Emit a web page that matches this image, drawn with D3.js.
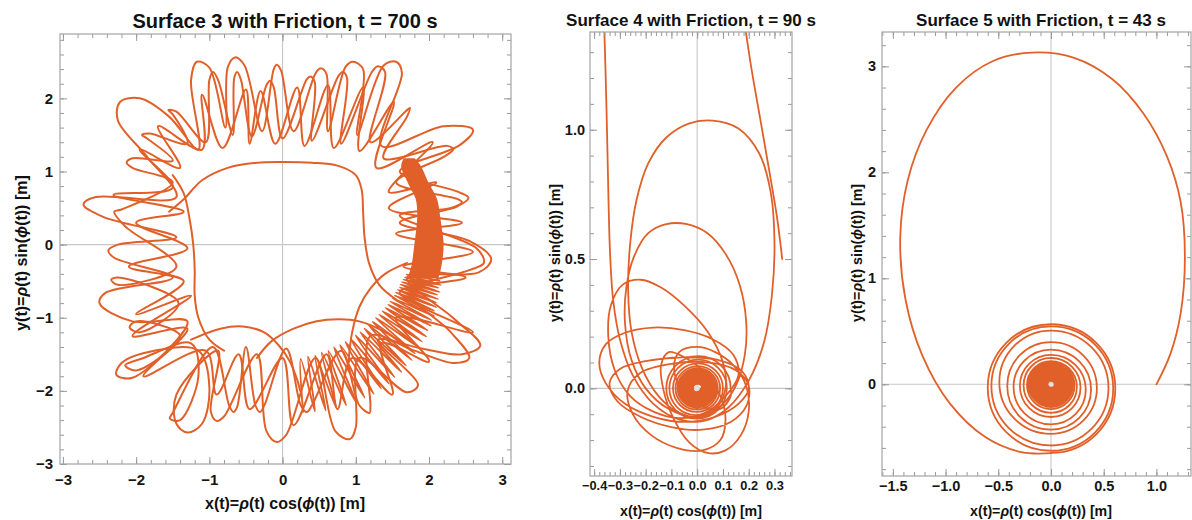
<!DOCTYPE html>
<html><head><meta charset="utf-8">
<script src="https://cdn.jsdelivr.net/npm/d3@7"></script>
<style>body{margin:0;background:#fff}</style>
</head><body>
<svg id="chart" width="1192" height="520"></svg>
<script>
// ---------- Surface 3 (t = 700 s) ----------
const s3MajorX = [-3, -2, -1, 0, 1, 2, 3];
const s3MajorXLabels = ["−3", "−2", "−1", "0", "1", "2", "3"];
const s3MajorY = [-3, -2, -1, 0, 1, 2];
const s3MajorYLabels = ["−3", "−2", "−1", "0", "1", "2"];

// petal passes around the ring [x, y] in metres
const s3PassA = [
  [-1.30,-1.05],[-2.05,-1.05],[-2.50,-0.80],[-2.42,-0.66],[-1.50,-0.45],
  [-2.30,-0.18],[-2.38,-0.08],[-2.25,0.00],[-1.45,0.10],
  [-2.45,0.38],[-2.72,0.55],[-2.55,0.65],[-1.45,0.65],
  [-1.85,1.20],[-2.25,1.70],[-2.22,1.95],[-1.95,2.00],[-1.55,1.75],[-1.15,1.30],
  [-1.25,2.25],[-1.17,2.50],[-1.00,2.42],[-0.78,1.60],
  [-0.75,2.42],[-0.65,2.56],[-0.52,2.45],[-0.28,1.55],
  [-0.12,2.40],[-0.08,2.46],[-0.02,2.38],[0.15,1.55],
  [0.46,2.36],[0.53,2.41],[0.60,2.33],[0.62,1.55],
  [0.86,2.43],[0.96,2.50],[1.10,2.40],[1.02,1.50],
  [1.38,2.45],[1.55,2.50],[1.63,2.35],[1.35,1.35],
  [2.20,1.62],[2.60,1.57],[2.42,1.36],[1.60,1.00],
  [2.40,0.72],[2.54,0.64],[2.38,0.52],[1.60,0.30],
  [2.55,0.05],[2.85,-0.20],[2.68,-0.38],[1.70,-0.45],
  [2.35,-1.02],[2.70,-1.38],[2.45,-1.50],[1.90,-1.42],[1.30,-1.30],
  [1.85,-1.92],[1.70,-2.02],[1.05,-1.55],
  [1.00,-2.50],[0.92,-2.66],[0.72,-2.55],[0.45,-1.55],
  [0.05,-2.60],[-0.08,-2.70],[-0.22,-2.55],[-0.35,-1.50],
  [-0.80,-2.35],[-0.90,-2.41],[-0.98,-2.28],[-0.88,-1.45],
  [-1.45,-2.05],[-1.45,-2.45],[-1.30,-2.57],[-1.10,-2.45],[-1.00,-1.95],[-1.15,-1.45],
  [-1.75,-1.45],[-2.20,-1.62],[-2.27,-1.78],[-2.05,-1.82]
];
const s3PassB = [
  [-1.40,-1.25],[-2.00,-1.05],[-2.09,-1.13],[-1.95,-1.20],[-1.42,-0.80],
  [-2.25,-0.45],[-2.34,-0.48],[-2.25,-0.55],[-1.45,-0.30],
  [-2.15,0.25],[-2.30,0.45],[-2.20,0.48],[-1.50,0.85],
  [-2.05,1.05],[-2.13,1.12],[-2.05,1.18],[-1.50,1.15],
  [-1.85,1.45],[-1.92,1.50],[-1.82,1.52],[-1.30,1.38],
  [-1.50,1.78],[-1.56,1.84],[-1.45,1.82],[-1.05,1.40],
  [-1.00,2.25],[-0.95,2.36],[-0.88,2.25],[-0.68,1.50],
  [-0.66,2.28],[-0.62,2.36],[-0.57,2.26],[-0.42,1.48],
  [-0.22,2.18],[-0.17,2.24],[-0.12,2.15],[0.00,1.45],
  [0.33,2.26],[0.38,2.30],[0.44,2.22],[0.40,1.42],
  [0.76,2.30],[0.82,2.36],[0.88,2.28],[0.80,1.38],
  [1.22,2.36],[1.30,2.44],[1.40,2.36],[1.20,1.40],
  [1.68,1.82],[1.74,1.87],[1.70,1.75],[1.38,1.18],
  [2.25,1.35],[2.33,1.30],[2.20,1.20],[1.55,0.85],
  [2.40,0.62],[2.45,0.58],[2.30,0.50],[1.60,0.40],
  [2.65,-0.05],[2.75,-0.25],[2.55,-0.35],[1.75,-0.65],
  [2.30,-1.20],[2.55,-1.55],[2.35,-1.62],[1.80,-1.45],[1.20,-1.25],
  [1.20,-2.20],[1.19,-2.30],[1.05,-2.20],[0.80,-1.45],
  [0.40,-2.20],[0.33,-2.29],[0.25,-2.20],[0.05,-1.42],
  [-0.25,-2.20],[-0.31,-2.29],[-0.37,-2.20],[-0.50,-1.40],
  [-0.62,-2.22],[-0.67,-2.29],[-0.73,-2.20],[-0.95,-1.40],
  [-1.50,-2.30],[-1.54,-2.38],[-1.40,-2.40],[-1.15,-1.80],[-1.25,-1.35],
  [-1.90,-1.55],[-2.15,-1.65],[-2.00,-1.72]
];
const s3PassC = [
  [-1.25,-0.70],[-2.00,-0.95],[-1.35,-0.50],[-2.10,-0.30],[-1.30,-0.05],
  [-2.00,0.30],[-1.35,0.45],[-2.31,0.68],[-1.50,0.78],[-1.95,1.30],
  [-1.40,1.05],[-1.70,1.62],[-1.10,1.30],[-1.10,2.05],[-0.82,1.32],
  [-0.50,2.12],[-0.45,1.38],[-0.30,2.10],[-0.10,1.38],[0.20,2.15],
  [0.30,1.35],[0.62,2.18],[0.70,1.32],[1.10,2.15],[1.05,1.28],
  [1.52,1.95],[1.28,1.05],[2.05,1.40],[1.45,0.72],[2.10,0.85],
  [1.45,0.50],[2.45,0.30],[1.55,0.15],[2.60,-0.10],[1.65,-0.30],
  [2.50,-0.45],[1.60,-0.65],[2.60,-1.20],[1.55,-1.00],[2.00,-1.60],
  [1.35,-1.35],[1.50,-2.05],[0.95,-1.55],[0.75,-2.25],[0.60,-1.50],
  [0.15,-2.47],[0.00,-1.55],[-0.45,-2.25],[-0.60,-1.50],[-0.90,-2.05],
  [-1.05,-1.45],[-1.90,-1.80],[-1.30,-1.15],[-2.05,-1.25]
];
// smooth arcs bounding the central hole
const s3ArcTop = [[-1.55,0.45],[-1.35,0.62],[-1.10,0.88],[-0.75,1.05],[-0.35,1.12],[0.00,1.13],
  [0.40,1.12],[0.75,1.08],[1.00,0.95],[1.08,0.75],[1.10,0.45],[1.12,0.10],[1.18,-0.25],[1.32,-0.55],[1.55,-0.75]];
const s3ArcLeft = [[-1.50,0.95],[-1.35,0.70],[-1.27,0.35],[-1.22,0.00],[-1.20,-0.35],[-1.20,-0.70],
  [-1.15,-1.00],[-1.00,-1.30],[-0.80,-1.45]];
const s3ArcBottom1 = [[-1.25,-1.30],[-0.85,-1.15],[-0.54,-1.12],[-0.25,-1.20],[-0.05,-1.38],[0.10,-1.60],[0.20,-1.85],[0.24,-2.00]];
const s3ArcBottom2 = [[-0.35,-1.55],[-0.15,-1.32],[0.15,-1.15],[0.45,-1.05],[0.78,-1.02],[1.05,-1.05],[1.33,-1.16],[1.60,-1.32]];
const s3ArcRight = [[0.90,-1.60],[0.95,-1.20],[1.05,-0.85],[1.20,-0.60],[1.40,-0.40],[1.70,-0.25]];
// dense oscillation band: [y, inner x, outer x]
const s3Band = [[1.17,1.66,1.80],[1.07,1.63,1.88],[0.85,1.72,1.98],[0.62,1.83,2.10],[0.40,1.85,2.14],
  [0.25,1.84,2.16],[0.00,1.81,2.19],[-0.29,1.77,2.16],[-0.45,1.72,2.12]];
// looser oscillations continuing clockwise: [angle deg, radius m]
const s3Zigzag = [
  [-13,2.20],[-13.6,1.74],[-14.3,2.23],[-14.9,1.73],[-15.5,2.21],[-16.1,1.72],[-16.8,2.24],[-17.4,1.71],
  [-18.0,2.22],[-18.7,1.70],[-19.3,2.25],[-20.0,1.70],[-20.7,2.24],[-21.4,1.69],[-22.1,2.27],[-22.9,1.68],
  [-23.6,2.26],[-24.4,1.68],[-25.2,2.29],[-26.0,1.67],[-26.9,2.28],[-27.8,1.66],[-28.7,2.31],[-29.6,1.66],
  [-30.6,2.30],[-31.6,1.65],[-32.6,2.33],[-33.7,1.64],[-34.8,2.32],[-35.9,1.63],[-37.0,2.35],[-38.2,1.62],
  [-39.4,2.34],[-40.6,1.62],[-41.8,2.37],[-43.1,1.61],[-44.4,2.36],[-45.7,1.60],[-47.0,2.38],[-48.4,1.60],
  [-49.8,2.37],[-51.2,1.59],[-52.6,2.39],[-54.1,1.59],[-55.6,2.38],[-57.1,1.58],[-58.6,2.39],[-60.2,1.58],
  [-61.8,2.37],[-63.4,1.57],[-65.0,2.38],[-66.7,1.58],[-68.4,2.36],[-70.1,1.57],[-71.8,2.35],[-73.6,1.58],
  [-75.4,2.34],[-77.2,1.57],[-79.0,2.32],[-81.0,1.58],[-83.0,2.30]
];

// ---------- Surface 4 (t = 90 s) ----------
const s4MajorX = [-0.4, -0.3, -0.2, -0.1, 0.0, 0.1, 0.2, 0.3];
const s4MajorXLabels = ["−0.4", "−0.3", "−0.2", "−0.1", "0.0", "0.1", "0.2", "0.3"];
const s4MajorY = [0.0, 0.5, 1.0];
const s4MajorYLabels = ["0.0", "0.5", "1.0"];
const s4Entry = [[0.33,0.50],[0.31,0.66],[0.28,0.84],[0.245,1.04],[0.21,1.24],[0.18,1.44]];
const s4Orbit = [
  [-0.362,1.44],[-0.355,1.20],[-0.349,0.95],[-0.344,0.72],[-0.338,0.52],[-0.326,0.34],[-0.30,0.19],[-0.25,0.05],
  [-0.17,-0.06],[-0.07,-0.12],[0.03,-0.125],[0.12,-0.075],[0.20,0.03],[0.26,0.18],[0.29,0.36],[0.30,0.56],
  [0.285,0.76],[0.24,0.91],[0.16,1.005],[0.06,1.035],[-0.03,1.025],[-0.12,0.97],[-0.19,0.87],[-0.235,0.73],
  [-0.26,0.56],[-0.268,0.38],[-0.255,0.22],[-0.215,0.08],[-0.15,-0.03],[-0.07,-0.095],[0.02,-0.11],[0.09,-0.07],
  [0.15,0.01],[0.185,0.13],[0.19,0.26],[0.165,0.40],[0.11,0.52],[0.04,0.60],[-0.04,0.635],[-0.12,0.635],
  [-0.19,0.60],[-0.245,0.51],[-0.275,0.39],[-0.28,0.25],[-0.255,0.11],[-0.20,0.00],[-0.11,-0.08],[-0.01,-0.11],
  [0.07,-0.08],[0.11,0.00],[0.10,0.10],[0.04,0.22],[-0.05,0.32],[-0.14,0.39],[-0.22,0.42],[-0.29,0.40],
  [-0.335,0.32],[-0.345,0.20],[-0.32,0.07],[-0.26,-0.03],[-0.17,-0.09],[-0.07,-0.115],[0.03,-0.095],[0.11,-0.03],
  [0.16,0.05],[0.14,0.13],[0.06,0.19],[-0.05,0.225],[-0.17,0.235],[-0.28,0.215],[-0.355,0.17],[-0.38,0.10],
  [-0.355,0.02],[-0.28,-0.06],[-0.17,-0.11],[-0.05,-0.13],[0.07,-0.11],[0.16,-0.06],[0.20,0.00],[0.175,0.065],
  [0.08,0.11],[-0.06,0.12],[-0.20,0.105],[-0.30,0.075],[-0.34,0.02],[-0.31,-0.05],[-0.22,-0.11],[-0.10,-0.15],
  [0.02,-0.16],[0.13,-0.13],[0.19,-0.07],[0.20,0.01],[0.15,0.07],[0.04,0.10],[-0.10,0.095],[-0.22,0.06],
  [-0.27,-0.01],[-0.25,-0.10],[-0.18,-0.18],[-0.08,-0.23],[0.02,-0.24],[0.09,-0.20],[0.11,-0.12],[0.09,-0.03],
  [0.03,0.06],[-0.05,0.12],[-0.11,0.14],[-0.14,0.09],[-0.13,-0.01],[-0.09,-0.12],[-0.03,-0.21],[0.04,-0.25],
  [0.11,-0.24],[0.17,-0.18],[0.20,-0.09],[0.19,0.01],[0.14,0.09],[0.07,0.14],[0.00,0.16],[-0.07,0.14],
  [-0.09,0.08],[-0.06,-0.01],[0.02,-0.07],[0.09,-0.08],[0.13,-0.03],[0.13,0.00]
];
// radii where the final inward spiral crosses the x axis, alternately right / left (m)
const s4SpiralRadii = [0.13,0.12,0.115,0.108,0.10,0.094,0.089,0.084,0.080,0.076,0.073,0.070,0.067,0.064,
  0.061,0.058,0.055,0.052,0.049,0.046,0.043,0.040,0.037,0.034,0.031,0.028,0.025,0.022,0.019,0.016,0.013];

// ---------- Surface 5 (t = 43 s) ----------
const s5MajorX = [-1.5, -1.0, -0.5, 0.0, 0.5, 1.0];
const s5MajorXLabels = ["−1.5", "−1.0", "−0.5", "0.0", "0.5", "1.0"];
const s5MajorY = [0, 1, 2, 3];
const s5MajorYLabels = ["0", "1", "2", "3"];
const s5Loop = [[1.00,0.00],[1.13,0.28],[1.23,0.67],[1.27,1.20],[1.23,1.72],[1.10,2.15],[0.88,2.55],
  [0.58,2.88],[0.22,3.08],[-0.18,3.13],[-0.55,3.05],[-0.90,2.80],[-1.18,2.40],[-1.36,1.92],[-1.43,1.38],
  [-1.38,0.80],[-1.22,0.27],[-0.96,-0.18],[-0.62,-0.50],[-0.28,-0.64],[0.00,-0.65]];
// radii where the spiral crosses the y axis, alternately below / above the origin (m)
const s5SpiralRadii = [0.65,0.57,0.63,0.55,0.58,0.51,0.47,0.40,0.43,0.33,0.38,0.28,0.31,0.25,0.27,0.22,
  0.235,0.21,0.215,0.195,0.20,0.182,0.186,0.170,0.173,0.158,0.160,0.146,0.148,0.134,0.136,0.122,0.124,
  0.111,0.112,0.100,0.100,0.089,0.088,0.078,0.077,0.067,0.066,0.057,0.055,0.047,0.045,0.038,0.035,0.030,0.026];

// ---------- drawing ----------
const ORANGE = "#e1602a";
const FONT = "'Liberation Sans', Arial, sans-serif";
const svg = d3.select("#chart");
const defs = svg.append("defs");

function makePanel(o) {
  const x = d3.scaleLinear().domain(o.xDom).range([o.left, o.right]);
  const y = d3.scaleLinear().domain(o.yDom).range([o.bottom, o.top]);
  const g = svg.append("g");
  defs.append("clipPath").attr("id", o.id).append("rect")
    .attr("x", o.left).attr("y", o.top).attr("width", o.right - o.left).attr("height", o.bottom - o.top);

  // zero lines
  g.append("line").attr("x1", x(0)).attr("x2", x(0)).attr("y1", o.top).attr("y2", o.bottom)
    .attr("stroke", "#c6c6c6").attr("stroke-width", 1.1);
  g.append("line").attr("x1", o.left).attr("x2", o.right).attr("y1", y(0)).attr("y2", y(0))
    .attr("stroke", "#c6c6c6").attr("stroke-width", 1.1);

  const plot = g.append("g").attr("clip-path", `url(#${o.id})`);

  // frame with inward ticks on all sides
  const style = (sel, fs) => {
    sel.select(".domain").remove();
    sel.selectAll("line").attr("stroke", "#9a9a9a");
    sel.selectAll("text").attr("font-family", FONT).attr("font-weight", "bold")
      .attr("font-size", fs).attr("fill", "#151515");
  };
  const xMinor = d3.range(o.xMinor[0], o.xMinor[1] + 1e-9, o.xMinor[2]);
  const yMinor = d3.range(o.yMinor[0], o.yMinor[1] + 1e-9, o.yMinor[2]);
  g.append("g").attr("transform", `translate(0,${o.bottom})`)
    .call(d3.axisBottom(x).tickValues(o.xMajor).tickSize(-7).tickPadding(o.xPad).tickFormat((d, i) => o.xLabels[i]))
    .call(style, o.xTickSize);
  g.append("g").attr("transform", `translate(0,${o.bottom})`)
    .call(d3.axisBottom(x).tickValues(xMinor).tickSize(-4).tickFormat("")).call(style, 0);
  g.append("g").attr("transform", `translate(0,${o.top})`)
    .call(d3.axisTop(x).tickValues(o.xMajor).tickSize(-7).tickFormat("")).call(style, 0);
  g.append("g").attr("transform", `translate(0,${o.top})`)
    .call(d3.axisTop(x).tickValues(xMinor).tickSize(-4).tickFormat("")).call(style, 0);
  g.append("g").attr("transform", `translate(${o.left},0)`)
    .call(d3.axisLeft(y).tickValues(o.yMajor).tickSize(-7).tickPadding(o.yPad).tickFormat((d, i) => o.yLabels[i]))
    .call(style, o.yTickSize);
  g.append("g").attr("transform", `translate(${o.left},0)`)
    .call(d3.axisLeft(y).tickValues(yMinor).tickSize(-4).tickFormat("")).call(style, 0);
  g.append("g").attr("transform", `translate(${o.right},0)`)
    .call(d3.axisRight(y).tickValues(o.yMajor).tickSize(-7).tickFormat("")).call(style, 0);
  g.append("g").attr("transform", `translate(${o.right},0)`)
    .call(d3.axisRight(y).tickValues(yMinor).tickSize(-4).tickFormat("")).call(style, 0);
  g.append("rect").attr("x", o.left).attr("y", o.top).attr("width", o.right - o.left)
    .attr("height", o.bottom - o.top).attr("fill", "none").attr("stroke", "#a4a4a4").attr("stroke-width", 1.2);

  // title
  svg.append("text").attr("x", o.titleX).attr("y", o.titleY).attr("text-anchor", "middle")
    .attr("font-family", FONT).attr("font-weight", "bold").attr("font-size", o.titleSize)
    .attr("fill", "#111").text(o.title);

  // axis labels with italic rho / phi
  const label = (sel, parts) => {
    parts.forEach(p => sel.append("tspan").attr("font-style", p[1] ? "italic" : null).text(p[0]));
  };
  const xl = svg.append("text").attr("x", o.xLabelX).attr("y", o.xLabelY).attr("text-anchor", "middle")
    .attr("font-family", FONT).attr("font-weight", "bold").attr("font-size", o.labelSize).attr("fill", "#111");
  label(xl, [["x(t)=", 0], ["ρ", 1], ["(t) cos(", 0], ["ϕ", 1], ["(t)) [m]", 0]]);
  const yl = svg.append("text").attr("transform", `translate(${o.yLabelX},${o.yLabelY}) rotate(-90)`)
    .attr("text-anchor", "middle").attr("font-family", FONT).attr("font-weight", "bold")
    .attr("font-size", o.labelSize).attr("fill", "#111");
  label(yl, [["y(t)=", 0], ["ρ", 1], ["(t) sin(", 0], ["ϕ", 1], ["(t)) [m]", 0]]);

  return { x, y, plot };
}

// inward spiral: half-turn arcs joining successive axis crossings, counter-clockwise
function spiralPath(x, y, theta0Deg, radii) {
  const k = x(1) - x(0);
  const p = d3.path();
  let th = theta0Deg * Math.PI / 180;
  p.moveTo(x(radii[0] * Math.cos(th)), y(radii[0] * Math.sin(th)));
  for (let i = 0; i < radii.length - 1; i++) {
    const a = radii[i], b = radii[i + 1];
    const rho = (a + b) / 2, off = (a - b) / 2;
    p.arc(x(off * Math.cos(th)), y(off * Math.sin(th)), rho * k, -th, -th - Math.PI, true);
    th += Math.PI;
  }
  return p.toString();
}

function stroke(sel, w) {
  return sel.attr("fill", "none").attr("stroke", ORANGE).attr("stroke-width", w)
    .attr("stroke-linejoin", "round").attr("stroke-linecap", "round");
}

// Panel 1
const P1 = makePanel({
  id: "clip1", left: 60, right: 511, top: 34, bottom: 464,
  xDom: [-3.04, 3.12], yDom: [-3.0, 2.88],
  xMajor: s3MajorX, xLabels: s3MajorXLabels, yMajor: s3MajorY, yLabels: s3MajorYLabels,
  xMinor: [-3, 3.1, 0.2], yMinor: [-3, 2.8, 0.2], xTickSize: 15, yTickSize: 15, xPad: 10, yPad: 7,
  title: "Surface 3 with Friction, t = 700 s", titleX: 285, titleY: 28, titleSize: 20,
  xLabelX: 285, xLabelY: 509, yLabelX: 27, yLabelY: 253, labelSize: 16
});
{
  const { x, y, plot } = P1;
  const closed = d3.line().x(d => x(d[0])).y(d => y(d[1])).curve(d3.curveCatmullRomClosed.alpha(0.5));
  const open = d3.line().x(d => x(d[0])).y(d => y(d[1])).curve(d3.curveCatmullRom.alpha(0.5));
  [s3PassA, s3PassB, s3PassC].forEach(p => stroke(plot.append("path").attr("d", closed(p)), 2));
  [s3ArcTop, s3ArcLeft, s3ArcBottom1, s3ArcBottom2, s3ArcRight]
    .forEach(p => stroke(plot.append("path").attr("d", open(p)), 2));
  const band = d3.area().y(d => y(d[0])).x0(d => x(d[1])).x1(d => x(d[2])).curve(d3.curveCatmullRom);
  plot.append("path").attr("d", band(s3Band)).attr("fill", ORANGE)
    .attr("stroke", ORANGE).attr("stroke-width", 1.5);
  const k = x(1) - x(0);
  const zig = d3.lineRadial().angle(d => Math.PI / 2 - d[0] * Math.PI / 180).radius(d => d[1] * k)
    .curve(d3.curveCatmullRom.alpha(0.5));
  stroke(plot.append("path").attr("transform", `translate(${x(0)},${y(0)})`).attr("d", zig(s3Zigzag)), 1.9);
}

// Panel 2
const P2 = makePanel({
  id: "clip2", left: 590, right: 792, top: 32, bottom: 476,
  xDom: [-0.416, 0.368], yDom: [-0.339, 1.378],
  xMajor: s4MajorX, xLabels: s4MajorXLabels, yMajor: s4MajorY, yLabels: s4MajorYLabels,
  xMinor: [-0.4, 0.36, 0.02], yMinor: [-0.3, 1.35, 0.1], xTickSize: 12.8, yTickSize: 14.5, xPad: 5, yPad: 5,
  title: "Surface 4 with Friction, t = 90 s", titleX: 691, titleY: 26, titleSize: 17,
  xLabelX: 691, xLabelY: 516, yLabelX: 560, yLabelY: 253, labelSize: 14.2
});
{
  const { x, y, plot } = P2;
  const open = d3.line().x(d => x(d[0])).y(d => y(d[1])).curve(d3.curveCatmullRom.alpha(0.5));
  stroke(plot.append("path").attr("d", open(s4Entry)), 1.8);
  stroke(plot.append("path").attr("d", open(s4Orbit)), 1.8);
  stroke(plot.append("path").attr("d", spiralPath(x, y, 0, s4SpiralRadii)), 1.8);
  plot.append("circle").attr("cx", x(0)).attr("cy", y(0)).attr("r", 2.3)
    .attr("fill", "#e4e4e4").attr("stroke", "#cfcfcf").attr("stroke-width", 0.6);
}

// Panel 3
const P3 = makePanel({
  id: "clip3", left: 882, right: 1191, top: 32, bottom: 476,
  xDom: [-1.603, 1.328], yDom: [-0.865, 3.324],
  xMajor: s5MajorX, xLabels: s5MajorXLabels, yMajor: s5MajorY, yLabels: s5MajorYLabels,
  xMinor: [-1.6, 1.3, 0.1], yMinor: [-0.8, 3.2, 0.2], xTickSize: 14.5, yTickSize: 14.5, xPad: 5, yPad: 6,
  title: "Surface 5 with Friction, t = 43 s", titleX: 1041, titleY: 26, titleSize: 17,
  xLabelX: 1041, xLabelY: 516, yLabelX: 862, yLabelY: 253, labelSize: 14.2
});
{
  const { x, y, plot } = P3;
  const open = d3.line().x(d => x(d[0])).y(d => y(d[1])).curve(d3.curveCatmullRom.alpha(0.5));
  stroke(plot.append("path").attr("d", open(s5Loop)), 1.8);
  stroke(plot.append("path").attr("d", spiralPath(x, y, -90, s5SpiralRadii)), 1.8);
  plot.append("circle").attr("cx", x(0)).attr("cy", y(0)).attr("r", 2.3)
    .attr("fill", "#e4e4e4").attr("stroke", "#cfcfcf").attr("stroke-width", 0.6);
}
</script>
</body></html>
